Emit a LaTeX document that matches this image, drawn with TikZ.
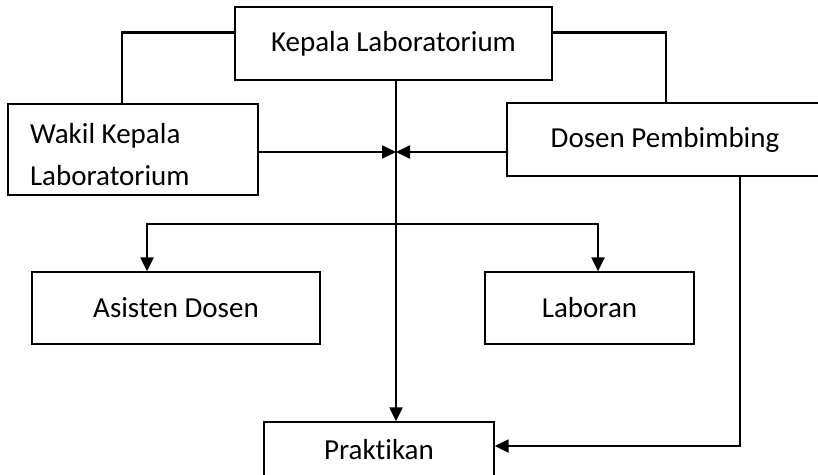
\documentclass[tikz,border=0pt]{standalone}
\usepackage{fontspec}
\setmainfont[Ligatures=NoCommon]{Carlito}
\usetikzlibrary{arrows.meta}

\begin{document}
\begin{tikzpicture}[x=1pt,y=-1pt,
    kotak/.style={draw,line width=1.3pt,rectangle,inner sep=0pt,font=\fontsize{29}{42}\selectfont},
    garis/.style={line width=2.2pt},
    panah/.style={line width=2.2pt,-{Triangle[length=14pt,width=13pt]}}]

    \clip (0,0) rectangle (818,474);
    \useasboundingbox (0,0) rectangle (818,474);

    \node[kotak,minimum width=317,minimum height=73] (kepala) at (393.5,43.5) {Kepala Laboratorium};
    \node[kotak,minimum width=250,minimum height=91,text width=206,inner xsep=22,align=flush left] (wakil) at (133,149.5) {\strut Wakil Kepala\\Laboratorium};
    \node[kotak,minimum width=316,minimum height=73] (dosen) at (665,139.5) {Dosen Pembimbing};
    \node[kotak,minimum width=288,minimum height=72] (asisten) at (176,308) {Asisten Dosen};
    \node[kotak,minimum width=209,minimum height=72] (laboran) at (589.5,308) {Laboran};
    \node[kotak,minimum width=230,minimum height=56] (praktikan) at (379,450) {Praktikan};

    \coordinate (temu) at ([xshift=2.5]kepala.south |- 0,152);
    \coordinate (cabang) at ([xshift=2.5]kepala.south |- 0,224);

    \draw[garis] ([yshift=11]kepala.west) -| ([xshift=-11]wakil.north);
    \draw[garis] ([yshift=11]kepala.east) -| ([xshift=1]dosen.north);

    \draw[panah] ([xshift=2.5]kepala.south) -- ([xshift=2.5]kepala.south |- praktikan.north);
    \draw[panah] (wakil.east |- temu) -- (temu);
    \draw[panah] (dosen.west |- temu) -- (temu);

    \draw[garis] ([xshift=-29]asisten.north |- cabang) -- ([xshift=8.5]laboran.north |- cabang);
    \draw[panah] (cabang) -| ([xshift=-29]asisten.north);
    \draw[panah] (cabang) -| ([xshift=8.5]laboran.north);

    \draw[panah] ([xshift=75]dosen.south) |- ([yshift=4]praktikan.east);

\end{tikzpicture}
\end{document}
